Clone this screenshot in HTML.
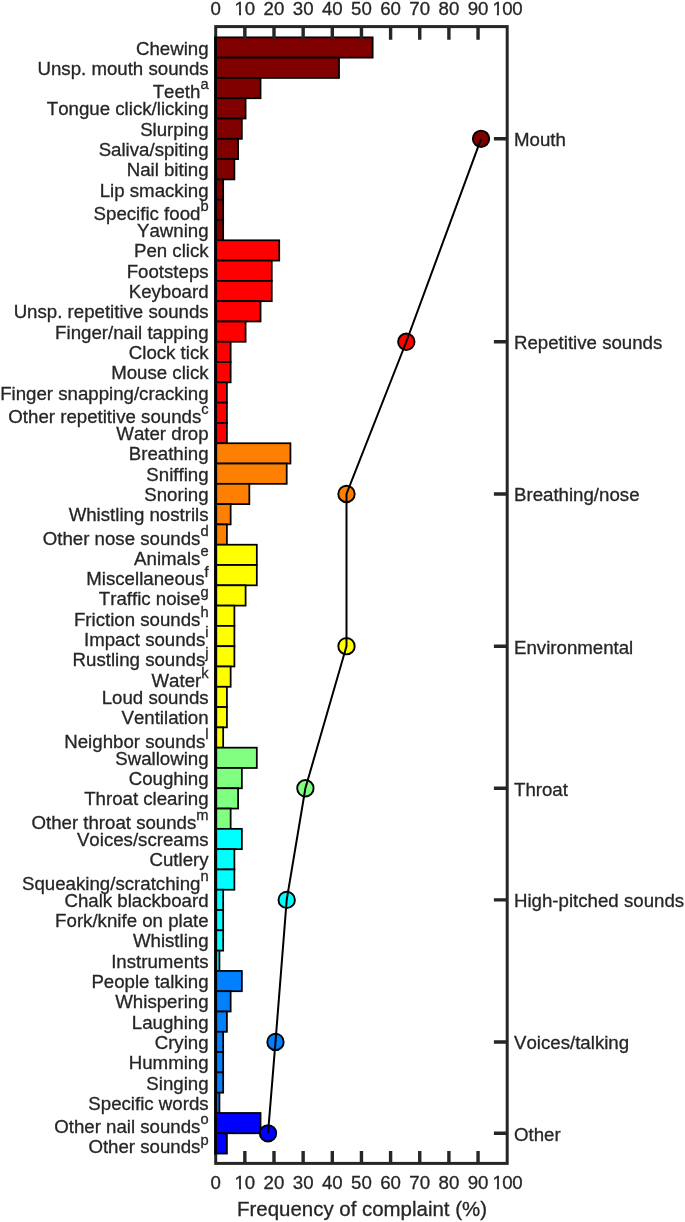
<!DOCTYPE html>
<html lang="en">
<head>
<meta charset="utf-8">
<title>Frequency of complaint</title>
<style>
html,body{margin:0;padding:0;background:#fff;}
body{width:685px;height:1222px;overflow:hidden;}
svg{display:block;}
text{font-family:"Liberation Sans",Arial,Helvetica,sans-serif;fill:#262626;font-kerning:none;stroke:#262626;stroke-width:0.3px;}
.t{font-size:18.67px;}
.l{font-size:20.45px;}
.s{font-size:14.7px;}
.b{stroke:#000;stroke-width:1.75;stroke-linejoin:miter;}
.a{stroke:#262626;stroke-width:3;fill:none;stroke-linecap:butt;}
</style>
</head>
<body>
<svg width="685" height="1222" viewBox="0 0 685 1222">
<rect x="0" y="0" width="685" height="1222" fill="#fff"/>
<g class="b">
<rect x="215.7" y="37.35" width="156.96" height="20.3" fill="#800000"/>
<rect x="215.7" y="57.64" width="123.33" height="20.3" fill="#800000"/>
<rect x="215.7" y="77.94" width="44.85" height="20.3" fill="#800000"/>
<rect x="215.7" y="98.23" width="29.9" height="20.3" fill="#800000"/>
<rect x="215.7" y="118.53" width="26.16" height="20.3" fill="#800000"/>
<rect x="215.7" y="138.82" width="22.42" height="20.3" fill="#800000"/>
<rect x="215.7" y="159.12" width="18.69" height="20.3" fill="#800000"/>
<rect x="215.7" y="179.41" width="7.47" height="20.3" fill="#800000"/>
<rect x="215.7" y="199.71" width="7.47" height="20.3" fill="#800000"/>
<rect x="215.7" y="220" width="7.47" height="20.3" fill="#800000"/>
<rect x="215.7" y="240.3" width="63.53" height="20.3" fill="#ff0000"/>
<rect x="215.7" y="260.59" width="56.06" height="20.3" fill="#ff0000"/>
<rect x="215.7" y="280.89" width="56.06" height="20.3" fill="#ff0000"/>
<rect x="215.7" y="301.18" width="44.85" height="20.3" fill="#ff0000"/>
<rect x="215.7" y="321.48" width="29.9" height="20.3" fill="#ff0000"/>
<rect x="215.7" y="341.77" width="14.95" height="20.3" fill="#ff0000"/>
<rect x="215.7" y="362.07" width="14.95" height="20.3" fill="#ff0000"/>
<rect x="215.7" y="382.36" width="11.21" height="20.3" fill="#ff0000"/>
<rect x="215.7" y="402.66" width="11.21" height="20.3" fill="#ff0000"/>
<rect x="215.7" y="422.95" width="11.21" height="20.3" fill="#ff0000"/>
<rect x="215.7" y="443.25" width="74.74" height="20.3" fill="#ff8000"/>
<rect x="215.7" y="463.54" width="71.01" height="20.3" fill="#ff8000"/>
<rect x="215.7" y="483.84" width="33.63" height="20.3" fill="#ff8000"/>
<rect x="215.7" y="504.13" width="14.95" height="20.3" fill="#ff8000"/>
<rect x="215.7" y="524.43" width="11.21" height="20.3" fill="#ff8000"/>
<rect x="215.7" y="544.72" width="41.11" height="20.3" fill="#ffff00"/>
<rect x="215.7" y="565.02" width="41.11" height="20.3" fill="#ffff00"/>
<rect x="215.7" y="585.31" width="29.9" height="20.3" fill="#ffff00"/>
<rect x="215.7" y="605.61" width="18.69" height="20.3" fill="#ffff00"/>
<rect x="215.7" y="625.9" width="18.69" height="20.3" fill="#ffff00"/>
<rect x="215.7" y="646.2" width="18.69" height="20.3" fill="#ffff00"/>
<rect x="215.7" y="666.49" width="14.95" height="20.3" fill="#ffff00"/>
<rect x="215.7" y="686.79" width="11.21" height="20.3" fill="#ffff00"/>
<rect x="215.7" y="707.08" width="11.21" height="20.3" fill="#ffff00"/>
<rect x="215.7" y="727.38" width="7.47" height="20.3" fill="#ffff00"/>
<rect x="215.7" y="747.67" width="41.11" height="20.3" fill="#80ff80"/>
<rect x="215.7" y="767.97" width="26.16" height="20.3" fill="#80ff80"/>
<rect x="215.7" y="788.26" width="22.42" height="20.3" fill="#80ff80"/>
<rect x="215.7" y="808.56" width="14.95" height="20.3" fill="#80ff80"/>
<rect x="215.7" y="828.85" width="26.16" height="20.3" fill="#00ffff"/>
<rect x="215.7" y="849.15" width="18.69" height="20.3" fill="#00ffff"/>
<rect x="215.7" y="869.44" width="18.69" height="20.3" fill="#00ffff"/>
<rect x="215.7" y="889.74" width="7.47" height="20.3" fill="#00ffff"/>
<rect x="215.7" y="910.03" width="7.47" height="20.3" fill="#00ffff"/>
<rect x="215.7" y="930.33" width="7.47" height="20.3" fill="#00ffff"/>
<rect x="215.7" y="950.62" width="3.74" height="20.3" fill="#00ffff"/>
<rect x="215.7" y="970.92" width="26.16" height="20.3" fill="#0080ff"/>
<rect x="215.7" y="991.21" width="14.95" height="20.3" fill="#0080ff"/>
<rect x="215.7" y="1011.51" width="11.21" height="20.3" fill="#0080ff"/>
<rect x="215.7" y="1031.8" width="7.47" height="20.3" fill="#0080ff"/>
<rect x="215.7" y="1052.1" width="7.47" height="20.3" fill="#0080ff"/>
<rect x="215.7" y="1072.39" width="7.47" height="20.3" fill="#0080ff"/>
<rect x="215.7" y="1092.69" width="3.74" height="20.3" fill="#0080ff"/>
<rect x="215.7" y="1112.98" width="44.85" height="20.3" fill="#0000ff"/>
<rect x="215.7" y="1133.28" width="11.21" height="20.3" fill="#0000ff"/>
</g>
<g class="a">
<rect x="215.7" y="26.6" width="291.5" height="1136.8"/>
<path stroke-width="3.4" d="M244.85 26.6V39.8 M244.85 1163.4V1151 M274 26.6V39.8 M274 1163.4V1151 M303.15 26.6V39.8 M303.15 1163.4V1151 M332.3 26.6V39.8 M332.3 1163.4V1151 M361.45 26.6V39.8 M361.45 1163.4V1151 M390.6 26.6V39.8 M390.6 1163.4V1151 M419.75 26.6V39.8 M419.75 1163.4V1151 M448.9 26.6V39.8 M448.9 1163.4V1151 M478.05 26.6V39.8 M478.05 1163.4V1151 M507.2 138.82H493.9 M507.2 341.77H493.9 M507.2 493.99H493.9 M507.2 646.2H493.9 M507.2 788.26H493.9 M507.2 899.89H493.9 M507.2 1041.95H493.9 M507.2 1133.28H493.9"/>
</g>
<path d="M215.6 36.47V1154.45" stroke="#000" stroke-width="2.8" fill="none"/>
<circle cx="481.04" cy="138.82" r="8.2" fill="#800000" stroke="#000" stroke-width="1.9"/>
<circle cx="406.3" cy="341.77" r="8.2" fill="#ff0000" stroke="#000" stroke-width="1.9"/>
<circle cx="346.5" cy="493.99" r="8.2" fill="#ff8000" stroke="#000" stroke-width="1.9"/>
<circle cx="346.5" cy="646.2" r="8.2" fill="#ffff00" stroke="#000" stroke-width="1.9"/>
<circle cx="305.39" cy="788.26" r="8.2" fill="#80ff80" stroke="#000" stroke-width="1.9"/>
<circle cx="286.71" cy="899.89" r="8.2" fill="#00ffff" stroke="#000" stroke-width="1.9"/>
<circle cx="275.49" cy="1041.95" r="8.2" fill="#0080ff" stroke="#000" stroke-width="1.9"/>
<circle cx="268.02" cy="1133.28" r="8.2" fill="#0000ff" stroke="#000" stroke-width="1.9"/>
<polyline fill="none" stroke="#000" stroke-width="2" points="481.04,138.82 406.3,341.77 346.5,493.99 346.5,646.2 305.39,788.26 286.71,899.89 275.49,1041.95 268.02,1133.28"/>
<g class="t" text-anchor="middle">
<text x="215.7" y="15.2">0</text>
<text x="215.7" y="1189.3">0</text>
<text x="244.85" y="15.2">10</text>
<text x="244.85" y="1189.3">10</text>
<text x="274" y="15.2">20</text>
<text x="274" y="1189.3">20</text>
<text x="303.15" y="15.2">30</text>
<text x="303.15" y="1189.3">30</text>
<text x="332.3" y="15.2">40</text>
<text x="332.3" y="1189.3">40</text>
<text x="361.45" y="15.2">50</text>
<text x="361.45" y="1189.3">50</text>
<text x="390.6" y="15.2">60</text>
<text x="390.6" y="1189.3">60</text>
<text x="419.75" y="15.2">70</text>
<text x="419.75" y="1189.3">70</text>
<text x="448.9" y="15.2">80</text>
<text x="448.9" y="1189.3">80</text>
<text x="478.05" y="15.2">90</text>
<text x="478.05" y="1189.3">90</text>
<text x="507.2" y="15.2" letter-spacing="-0.5">100</text>
<text x="507.2" y="1189.3" letter-spacing="-0.5">100</text>
</g>
<g fill="#fff">
<rect x="234.77" y="12.8" width="4.2" height="3.4"/>
<rect x="241" y="12.8" width="3.9" height="3.4"/>
<rect x="234.77" y="1186.9" width="4.2" height="3.4"/>
<rect x="241" y="1186.9" width="3.9" height="3.4"/>
<rect x="492.67" y="12.8" width="4.2" height="3.4"/>
<rect x="498.9" y="12.8" width="3.9" height="3.4"/>
<rect x="492.67" y="1186.9" width="4.2" height="3.4"/>
<rect x="498.9" y="1186.9" width="3.9" height="3.4"/>
</g>
<text class="l" text-anchor="middle" x="362" y="1215.95">Frequency of complaint (%)</text>
<g class="t" text-anchor="end">
<text x="208.6" y="54.5">Chewing</text>
<text x="208.6" y="74.79">Unsp. mouth sounds</text>
<text x="208.6" y="98.09">Teeth<tspan class="s" dy="-8.65">a</tspan></text>
<text x="208.6" y="115.38">Tongue click/licking</text>
<text x="208.6" y="135.68">Slurping</text>
<text x="208.6" y="155.97">Saliva/spiting</text>
<text x="208.6" y="176.26">Nail biting</text>
<text x="208.6" y="196.56">Lip smacking</text>
<text x="208.6" y="219.86">Specific food<tspan class="s" dy="-8.65">b</tspan></text>
<text x="208.6" y="237.15">Yawning</text>
<text x="208.6" y="257.44">Pen click</text>
<text x="208.6" y="277.74">Footsteps</text>
<text x="208.6" y="298.04">Keyboard</text>
<text x="208.6" y="318.33">Unsp. repetitive sounds</text>
<text x="208.6" y="338.62">Finger/nail tapping</text>
<text x="208.6" y="358.92">Clock tick</text>
<text x="208.6" y="379.22">Mouse click</text>
<text x="208.6" y="399.51">Finger snapping/cracking</text>
<text x="208.6" y="422.81">Other repetitive sounds<tspan class="s" dy="-8.65">c</tspan></text>
<text x="208.6" y="440.1">Water drop</text>
<text x="208.6" y="460.4">Breathing</text>
<text x="208.6" y="480.69">Sniffing</text>
<text x="208.6" y="500.99">Snoring</text>
<text x="208.6" y="521.28">Whistling nostrils</text>
<text x="208.6" y="544.58">Other nose sounds<tspan class="s" dy="-8.65">d</tspan></text>
<text x="208.6" y="564.87">Animals<tspan class="s" dy="-8.65">e</tspan></text>
<text x="208.6" y="585.17">Miscellaneous<tspan class="s" dy="-8.65">f</tspan></text>
<text x="208.6" y="605.46">Traffic noise<tspan class="s" dy="-8.65">g</tspan></text>
<text x="208.6" y="625.76">Friction sounds<tspan class="s" dy="-8.65">h</tspan></text>
<text x="208.6" y="646.05">Impact sounds<tspan class="s" dy="-8.65">i</tspan></text>
<text x="208.6" y="666.35">Rustling sounds<tspan class="s" dy="-8.65">j</tspan></text>
<text x="208.6" y="686.64">Water<tspan class="s" dy="-8.65">k</tspan></text>
<text x="208.6" y="703.94">Loud sounds</text>
<text x="208.6" y="724.23">Ventilation</text>
<text x="208.6" y="747.53">Neighbor sounds<tspan class="s" dy="-8.65">l</tspan></text>
<text x="208.6" y="764.82">Swallowing</text>
<text x="208.6" y="785.12">Coughing</text>
<text x="208.6" y="805.41">Throat clearing</text>
<text x="208.6" y="828.71">Other throat sounds<tspan class="s" dy="-8.65">m</tspan></text>
<text x="208.6" y="846">Voices/screams</text>
<text x="208.6" y="866.3">Cutlery</text>
<text x="208.6" y="889.59">Squeaking/scratching<tspan class="s" dy="-8.65">n</tspan></text>
<text x="208.6" y="906.89">Chalk blackboard</text>
<text x="208.6" y="927.18">Fork/knife on plate</text>
<text x="208.6" y="947.48">Whistling</text>
<text x="208.6" y="967.77">Instruments</text>
<text x="208.6" y="988.07">People talking</text>
<text x="208.6" y="1008.36">Whispering</text>
<text x="208.6" y="1028.66">Laughing</text>
<text x="208.6" y="1048.95">Crying</text>
<text x="208.6" y="1069.25">Humming</text>
<text x="208.6" y="1089.54">Singing</text>
<text x="208.6" y="1109.84">Specific words</text>
<text x="208.6" y="1133.13">Other nail sounds<tspan class="s" dy="-8.65">o</tspan></text>
<text x="208.6" y="1153.43">Other sounds<tspan class="s" dy="-8.65">p</tspan></text>
</g>
<g class="t">
<text x="514" y="146.12">Mouth</text>
<text x="514" y="349.07">Repetitive sounds</text>
<text x="514" y="501.29">Breathing/nose</text>
<text x="514" y="653.5">Environmental</text>
<text x="514" y="795.56">Throat</text>
<text x="514" y="907.19">High-pitched sounds</text>
<text x="514" y="1049.25">Voices/talking</text>
<text x="514" y="1140.58">Other</text>
</g>
</svg>
</body>
</html>
